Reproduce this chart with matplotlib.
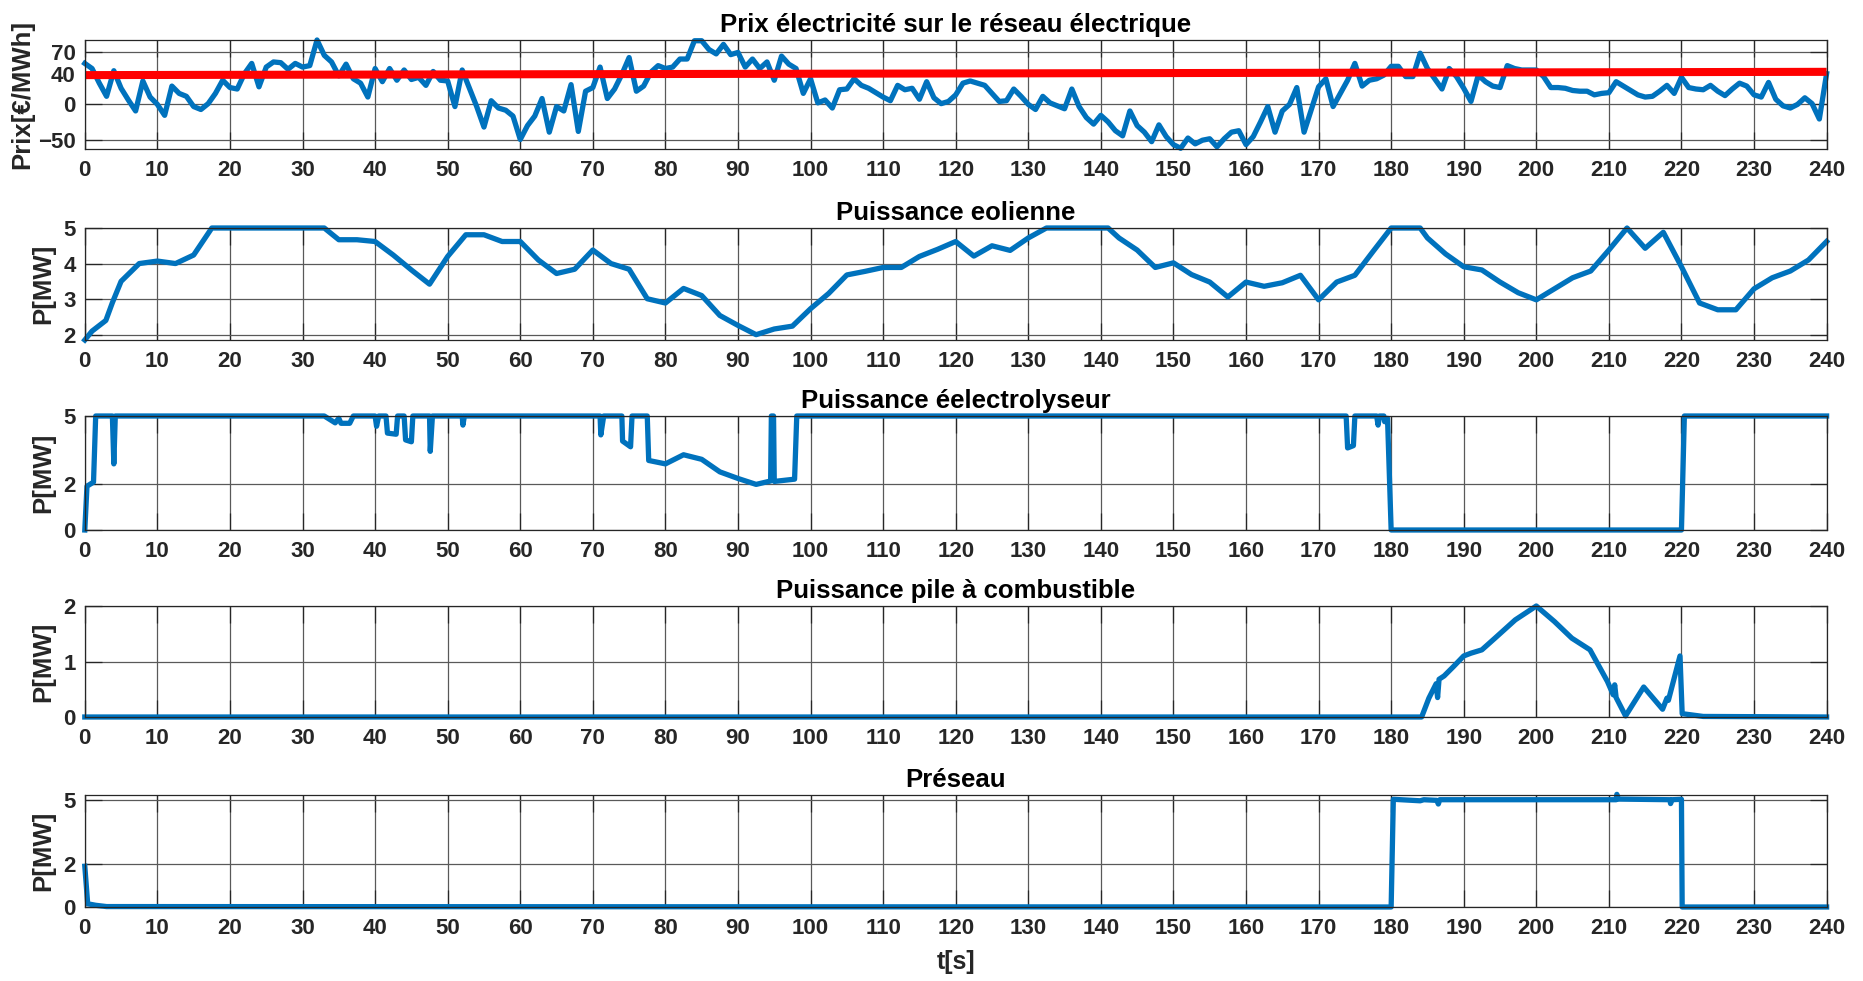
import numpy as np
import matplotlib
matplotlib.use("Agg")
import matplotlib.pyplot as plt

plt.rcParams['font.family'] = ['Liberation Sans', 'DejaVu Sans']
plt.rcParams['font.weight'] = 'bold'

# --- prix electricite (1 point / s) ---
price_t = list(range(241))
price = [55, 48, 28, 10, 45, 21, 5, -10, 31, 9,
         -1, -16, 24, 14, 10, -4, -8, 0, 14, 32,
         22, 20, 41, 55, 23, 50, 57, 56, 47, 55,
         50, 52, 87, 66, 57, 38, 54, 34, 28, 9,
         48, 30, 48, 32, 46, 33, 36, 25, 44, 32,
         31, -4, 46, 21, -4, -32, 4, -6, -9, -17,
         -49, -30, -17, 7, -39, -4, -10, 26, -38, 17,
         22, 50, 7, 20, 40, 63, 17, 24, 43, 52,
         48, 50, 61, 61, 86, 86, 74, 68, 81, 67,
         70, 50, 61, 48, 57, 32, 65, 54, 48, 14,
         34, 1, 5, -6, 19, 20, 34, 25, 21, 15,
         9, 4, 25, 19, 21, 6, 30, 8, 0, 3,
         12, 28, 31, 28, 25, 14, 3, 4, 20, 10,
         -1, -8, 10, 1, -3, -7, 20, -4, -19, -28,
         -16, -25, -37, -44, -10, -30, -39, -52, -29, -45,
         -56, -61, -47, -55, -50, -48, -59, -48, -39, -37,
         -56, -45, -25, -4, -39, -10, -1, 22, -39, -8,
         23, 34, -4, 14, 32, 55, 24, 32, 34, 39,
         51, 51, 37, 37, 69, 48, 34, 20, 48, 37,
         21, 3, 39, 30, 24, 22, 52, 48, 46, 46,
         46, 37, 22, 22, 21, 18, 17, 17, 12, 14,
         15, 30, 24, 18, 12, 9, 10, 17, 25, 14,
         36, 22, 20, 19, 25, 17, 11, 20, 28, 24,
         12, 9, 29, 6, -3, -6, -1, 8, 0, -21,
         41]
ref_t = [0, 240]
ref_price = [39, 43.5]

# --- puissance eolienne ---
wind_t = [0, 1, 2.9, 3.8, 5, 7.5, 10, 12.5, 15, 17.5, 33, 35, 37.5, 40, 42.5, 45, 47.5,
          50, 52.5, 55, 57.5, 60, 62.5, 65, 67.5, 70, 72.5, 75, 77.5, 80, 82.5, 85,
          87.5, 90, 92.5, 95, 97.5, 100, 102.5, 105, 107.5, 110, 112.5, 115, 117.5,
          120, 122.5, 125, 127.5, 130, 132.5, 141, 142.5, 145, 147.5, 150, 152.5,
          155, 157.5, 160, 162.5, 165, 167.5, 170, 172.5, 175, 177.5, 180, 184, 185,
          187.5, 190, 192.5, 195, 197.5, 200, 202.5, 205, 207.5, 210, 212.5, 215,
          217.5, 220, 222.5, 225, 227.5, 230, 232.5, 235, 237.5, 240]
wind = [1.85, 2.1, 2.4, 2.9, 3.5, 4.0, 4.07, 4.0, 4.24, 5.0, 5.0, 4.67, 4.67, 4.62, 4.24,
        3.82, 3.42, 4.2, 4.81, 4.81, 4.62, 4.62, 4.1, 3.72, 3.84, 4.38, 4.0, 3.84, 3.01,
        2.89, 3.3, 3.1, 2.54, 2.26, 2.0, 2.16, 2.24, 2.73, 3.16, 3.68, 3.78, 3.89, 3.89,
        4.2, 4.4, 4.62, 4.21, 4.5, 4.37, 4.72, 5.0, 5.0, 4.72, 4.38, 3.89, 4.02, 3.69,
        3.48, 3.06, 3.48, 3.36, 3.46, 3.67, 2.98, 3.48, 3.67, 4.34, 5.0, 5.0, 4.72,
        4.27, 3.91, 3.82, 3.48, 3.18, 2.98, 3.29, 3.6, 3.79, 4.38, 5.0, 4.43, 4.88,
        3.91, 2.89, 2.7, 2.7, 3.29, 3.6, 3.79, 4.1, 4.62]

# --- puissance electrolyseur ---
elec_t = [0, 0.3, 1.2, 1.5, 3.8, 4, 4.2, 33, 34.5, 35, 35.3, 36.5, 37, 40, 40.2, 40.5,
          41.5, 41.7, 42.9, 43.1, 44, 44.2, 45, 45.2, 47.5, 47.6, 47.9, 52, 52.1, 52.3,
          71, 71.1, 71.5, 74, 74.1, 75.2, 75.4, 77.5, 77.7, 80, 82.5, 85, 87.5, 90, 92.5,
          94.5, 94.6, 94.9, 95, 97.8, 98.1, 173.8, 174, 174.8, 175, 178, 178.2, 178.4,
          179, 179.1, 179.5, 180, 220, 220.4, 240]
elec = [0, 1.92, 2.1, 5, 5, 2.9, 5, 5, 4.7, 4.9, 4.68, 4.68, 5, 5, 4.55, 5,
        5, 4.25, 4.2, 5, 5, 3.95, 3.87, 5, 5, 3.45, 5, 5, 4.6, 5,
        5, 4.17, 5, 5, 3.9, 3.65, 5, 5, 3.05, 2.9, 3.3, 3.1, 2.55, 2.26, 2.0,
        2.15, 5, 5, 2.13, 2.23, 5, 5, 3.6, 3.7, 5, 5, 4.6, 5,
        5, 4.75, 4.9, 0, 0, 5, 5]

# --- puissance pile a combustible ---
pac_t = [0, 184.2, 185.2, 186.2, 186.4, 186.6, 187.3, 188.6, 190, 191, 192.5, 194.3,
         197.1, 200, 202.5, 204.9, 207.4, 209.8, 210.6, 210.8, 211, 212.3, 214.8,
         217.4, 218, 218.2, 219.8, 220.1, 223, 240]
pac = [0, 0, 0.34, 0.6, 0.35, 0.68, 0.74, 0.91, 1.1, 1.15, 1.21, 1.42,
       1.75, 2.0, 1.72, 1.42, 1.21, 0.64, 0.4, 0.58, 0.35, 0.02, 0.54,
       0.14, 0.34, 0.3, 1.1, 0.06, 0.01, 0]

# --- puissance reseau ---
grid_t = [0, 0.4, 1.5, 3, 180, 180.3, 184, 184.5, 186.3, 186.5, 186.7, 211, 211.1,
          211.3, 218.4, 218.5, 218.7, 220, 220.1, 240]
grid_p = [1.9, 0.15, 0.08, 0.02, 0, 5.02, 4.95, 5.0, 4.97, 4.8, 5.0, 5.0, 5.25,
          5.03, 5.0, 4.82, 5.0, 5.02, 0, 0]

xticks = list(range(0, 241, 10))

blue = '#0072BD'
txt = '#262626'
lw = 3.8

fig = plt.figure(figsize=(18.63, 9.81), dpi=100)
left = 84.8 / 1863
width = (1826.6 - 84.8) / 1863
rows = [(40, 149), (228, 340), (416, 530), (606, 717), (795, 907)]
axes = []
for top, bot in rows:
    ax = fig.add_axes([left, 1 - bot / 981, width, (bot - top) / 981])
    axes.append(ax)


def style(ax, title, ylabel, yticks, ylim, lx):
    ax.set_xlim(0, 240)
    ax.set_ylim(*ylim)
    ax.set_xticks(xticks)
    ax.set_yticks(yticks)
    ax.grid(True, color='0.35', linewidth=0.9)
    ax.set_axisbelow(True)
    ax.tick_params(direction='in', top=True, right=True, length=12, width=0.9,
                   labelsize=16, colors=txt, labelcolor=txt)
    ax.tick_params(axis='x', pad=8)
    ax.tick_params(axis='y', pad=6.5)
    for lab in ax.get_xticklabels() + ax.get_yticklabels():
        lab.set_fontweight('bold')
    for s in ax.spines.values():
        s.set_color('0.15')
        s.set_linewidth(0.9)
    ax.set_title(title, fontsize=18.5, fontweight='bold', pad=6)
    ax.set_ylabel(ylabel, fontsize=18.5, fontweight='bold', color=txt)
    ax.yaxis.set_label_coords(lx, 0.5)


ax = axes[0]
ax.plot(price_t, price, color=blue, linewidth=lw, clip_on=False)
ax.plot(ref_t, ref_price, color='#FF0000', linewidth=5.8, solid_capstyle='butt')
style(ax, 'Prix électricité sur le réseau électrique', 'Prix[€/MWh]',
      [-50, 0, 40, 70], (-62, 87), -0.029)

ax = axes[1]
ax.plot(wind_t, wind, color=blue, linewidth=lw, clip_on=False)
style(ax, 'Puissance eolienne', 'P[MW]', [2, 3, 4, 5], (1.85, 5.0), -0.017)

ax = axes[2]
ax.plot(elec_t, elec, color=blue, linewidth=lw, clip_on=False)
style(ax, 'Puissance éelectrolyseur', 'P[MW]', [0, 2, 5], (0, 5.0), -0.017)

ax = axes[3]
ax.plot(pac_t, pac, color=blue, linewidth=lw, clip_on=False)
style(ax, 'Puissance pile à combustible', 'P[MW]', [0, 1, 2], (0, 2.0), -0.017)

ax = axes[4]
ax.plot(grid_t, grid_p, color=blue, linewidth=lw, clip_on=False)
style(ax, 'Préseau', 'P[MW]', [0, 2, 5], (0, 5.22), -0.017)
ax.set_xlabel('t[s]', fontsize=18, fontweight='bold', color=txt, labelpad=8)

fig.savefig('out.png', dpi=100)
